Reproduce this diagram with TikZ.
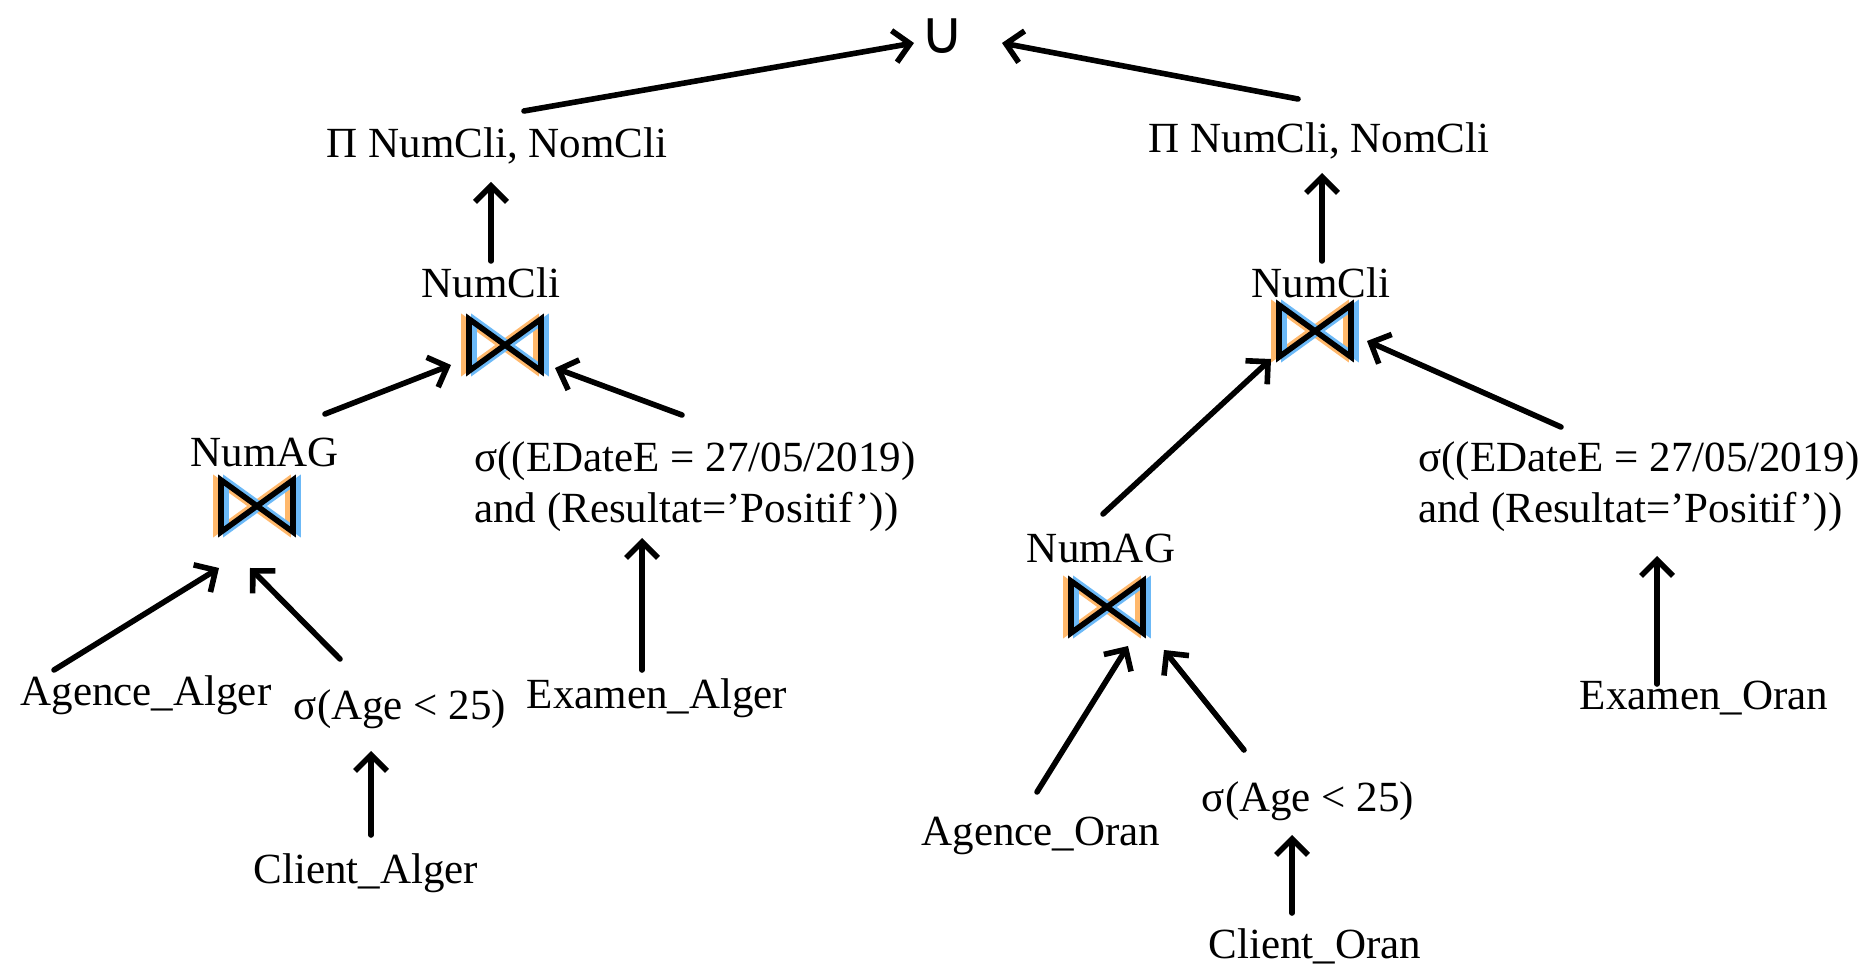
\documentclass[tikz,border=0pt]{standalone}
\usepackage{fontspec}
\setmainfont{Liberation Serif}
\newfontfamily\unionfont{DejaVu Sans}
\usetikzlibrary{arrows.meta,calc}
\definecolor{joinorange}{HTML}{FFB86B}
\definecolor{joinblue}{HTML}{6CB9F7}
\tikzset{
  lbl/.style={inner sep=0pt, font=\fontsize{21.5}{25.5}\selectfont},
  selbox/.style={lbl, align=left},
  joinbox/.style={minimum width=48pt, minimum height=32pt, inner sep=0pt, fill=white,
    path picture={
      \foreach \dx/\col in {-2.5pt/joinorange, 2.5pt/joinblue, 0pt/black}
        \draw[\col, line width=2.8pt]
          ([xshift=\dx]path picture bounding box.center) ++(-18pt,13pt) -- ++(0pt,-26pt) -- ++(18pt,13pt) -- cycle
          ([xshift=\dx]path picture bounding box.center) ++(18pt,13pt) -- ++(0pt,-26pt) -- ++(-18pt,13pt) -- cycle;
    }},
  arr/.style={-{Straight Barb[length=8pt, width=16pt]}, line width=2.8pt,
              line cap=round, line join=round}}

\begin{document}
\begin{tikzpicture}[x=0.5pt, y=-0.5pt]
  \useasboundingbox (0,0) rectangle (1876,967);
  % top
  \node[lbl, font=\unionfont\fontsize{30}{30}\selectfont] (un) at (942,36) {∪};
  \node[lbl] (piL) at (497,146) {Π NumCli, NomCli};
  \node[lbl] (piR) at (1319,141) {Π NumCli, NomCli};
  % left branch
  \node[lbl] (ncL) at (491,283) {NumCli};
  \node[joinbox] (jnL) at (505,345) {};
  \node[lbl] (agL) at (265,452) {NumAG};
  \node[joinbox] (jaL) at (257,506) {};
  \node[selbox] (selL) at (695,487) {σ((EDateE = 27/05/2019)\\and (Resultat=’Positif’))};
  \node[lbl] (agenceA) at (146,695) {Agence\_Alger};
  \node[lbl] (sageL) at (400,709) {σ(Age < 25)};
  \node[lbl] (clientA) at (366,873) {Client\_Alger};
  \node[lbl] (examA) at (657,698) {Examen\_Alger};
  % right branch
  \node[lbl] (ncR) at (1321,283) {NumCli};
  \node[joinbox] (jnR) at (1315,331) {};
  \node[lbl] (agR) at (1101,548) {NumAG};
  \node[joinbox] (jaR) at (1107,607) {};
  \node[selbox] (selR) at (1639,487) {σ((EDateE = 27/05/2019)\\and (Resultat=’Positif’))};
  \node[lbl] (agenceO) at (1041,836) {Agence\_Oran};
  \node[lbl] (sageR) at (1308,801) {σ(Age < 25)};
  \node[lbl] (clientO) at (1315,946) {Client\_Oran};
  \node[lbl] (examO) at (1704,698) {Examen\_Oran};
  % arrows
  \draw[arr] ($(piL)+(27,-35)$) -- ($(un)+(-28,7)$);
  \draw[arr] ($(piR)+(-21,-42)$) -- ($(un)+(60,7)$);
  \draw[arr] ($(ncL)+(0,-22)$) -- ($(piL)+(-6,36)$);
  \draw[arr] ($(ncR)+(1,-22)$) -- ($(piR)+(3,32)$);
  \draw[arr] ($(agL)+(60,-38)$) -- ($(jnL)+(-54,20)$);
  \draw[arr] ($(selL)+(-13,-72)$) -- ($(jnL)+(50,23)$);
  \draw[arr] ($(agenceA)+(-92,-25)$) -- ($(jaL)+(-38,62)$);
  \draw[arr] ($(sageL)+(-60,-50)$) -- ($(jaL)+(-7,62)$);
  \draw[arr] ($(clientA)+(5,-38)$) -- ($(sageL)+(-29,42)$);
  \draw[arr] ($(examA)+(-15,-28)$) -- ($(selL)+(-53,51)$);
  \draw[arr] ($(agR)+(2,-34)$) -- ($(jnR)+(-44,28)$);
  \draw[arr] ($(selR)+(-78,-60)$) -- ($(jnR)+(52,10)$);
  \draw[arr] ($(agenceO)+(-4,-44)$) -- ($(jaR)+(21,39)$);
  \draw[arr] ($(sageR)+(-64,-51)$) -- ($(jaR)+(57,43)$);
  \draw[arr] ($(clientO)+(-23,-33)$) -- ($(sageR)+(-16,34)$);
  \draw[arr] ($(examO)+(-47,-14)$) -- ($(selR)+(18,69)$);
\end{tikzpicture}
\end{document}
